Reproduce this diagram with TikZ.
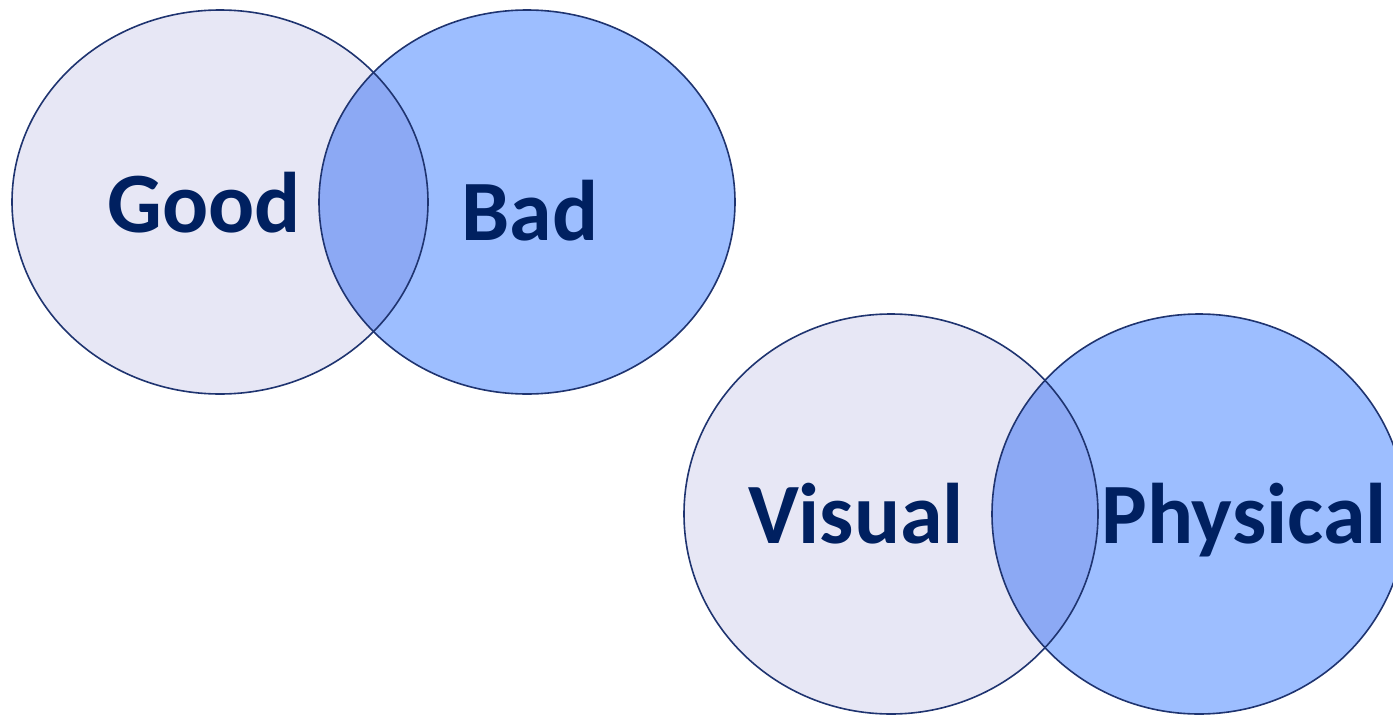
\documentclass[tikz,border=0pt]{standalone}
\usepackage{fontspec}
\setmainfont{Carlito}
\usepackage{tikz}

\definecolor{navy}{HTML}{002060}
\definecolor{rim}{HTML}{1F3470}
\definecolor{pale}{HTML}{E7E7F5}
\definecolor{sky}{HTML}{9DBEFF}
\definecolor{lens}{HTML}{8CA9F4}

\tikzset{word/.style={font=\fontsize{86}{90}\selectfont\bfseries,
                      text=navy, anchor=base, inner sep=0pt},
         rimline/.style={draw=rim, line width=1.6pt}}

\begin{document}
\begin{tikzpicture}[x=1pt, y=-1pt]

        \useasboundingbox (0,0) rectangle (1393,715);

        % good / bad
        \fill[pale] (220,202) ellipse [x radius=208, y radius=192];
        \fill[sky]  (527,202) ellipse [x radius=208, y radius=192];
        \begin{scope}
            \clip (220,202) ellipse [x radius=208, y radius=192];
            \fill[lens] (527,202) ellipse [x radius=208, y radius=192];
        \end{scope}
        \path[rimline] (220,202) ellipse [x radius=208, y radius=192];
        \path[rimline] (527,202) ellipse [x radius=208, y radius=192];

        % visual / physical
        \fill[pale] (891,514) ellipse [x radius=207, y radius=200];
        \fill[sky]  (1199,514) ellipse [x radius=207, y radius=200];
        \begin{scope}
            \clip (891,514) ellipse [x radius=207, y radius=200];
            \fill[lens] (1199,514) ellipse [x radius=207, y radius=200];
        \end{scope}
        \path[rimline] (891,514) ellipse [x radius=207, y radius=200];
        \path[rimline] (1199,514) ellipse [x radius=207, y radius=200];

        \node[word] (good)     at (204,232)  {Good};
        \node[word] (bad)      at (530,240)  {Bad};
        \node[word] (visual)   at (856,543)  {Visual};
        \node[word] (physical) at (1244,543) {Physical};

\end{tikzpicture}
\end{document}
